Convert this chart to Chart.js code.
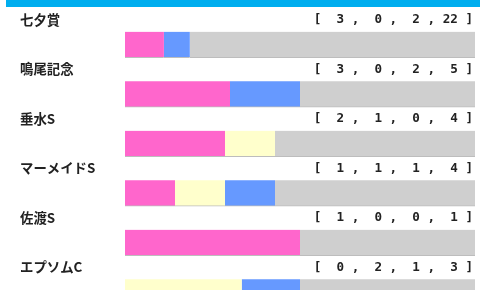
<!DOCTYPE html>
<html>
<head>
<meta charset="utf-8">
<script src="https://cdn.jsdelivr.net/npm/chart.js@4"></script>
<style>
  html, body { margin: 0; padding: 0; background: #fff; overflow: hidden; }
  #head { position: absolute; left: 6px; top: 0; width: 474px; height: 7px; background: #00aeef; }
  #results { position: absolute; left: 0; top: 0; }
</style>
</head>
<body>
<canvas id="results" width="486" height="317"></canvas>
<div id="head"></div>
<script>
const races = ["七夕賞", "鳴尾記念", "垂水S", "マーメイドS", "佐渡S", "エプソムC"];
const firsts = [3, 3, 2, 1, 1, 0];
const seconds = [0, 0, 1, 1, 0, 2];
const thirds = [2, 2, 0, 1, 0, 1];
const others = [22, 5, 4, 4, 1, 3];

const totals = races.map((_, i) => firsts[i] + seconds[i] + thirds[i] + others[i]);
const share = (arr) => arr.map((v, i) => v / totals[i]);

const pad = (n) => String(n).padStart(3, " ");

// labels above each bar: race name on the left, record on the right
const rowText = {
  id: "rowText",
  afterDraw(chart) {
    const ctx = chart.ctx;
    const bars = chart.getDatasetMeta(0).data;
    ctx.save();
    ctx.fillStyle = "#222";
    ctx.textBaseline = "middle";
    bars.forEach((bar, i) => {
      const y = bar.y - bar.height / 2 - 12;
      ctx.font = "bold 13.4px 'Noto Sans CJK JP', sans-serif";
      ctx.textAlign = "left";
      ctx.fillText(races[i], 20, y);
      const rec = "[" + [firsts[i], seconds[i], thirds[i], others[i]].map(pad).join(" ,") + " ]";
      ctx.font = "bold 12.6px 'DejaVu Sans Mono', monospace";
      ctx.textAlign = "right";
      ctx.fillText(rec, 473, y);
    });
    ctx.restore();
  }
};

const barStyle = {
  borderColor: "#bdbdbd",
  borderWidth: { top: 0, right: 0, bottom: 1, left: 0 },
  borderSkipped: false,
};

new Chart(document.getElementById("results"), {
  type: "bar",
  data: {
    labels: races,
    datasets: [
      { label: "1着", data: share(firsts), backgroundColor: "#ff66cc", ...barStyle },
      { label: "2着", data: share(seconds), backgroundColor: "#ffffcc", ...barStyle },
      { label: "3着", data: share(thirds), backgroundColor: "#6699ff", ...barStyle },
      { label: "着外", data: share(others), backgroundColor: "#cfcfcf", ...barStyle },
    ],
  },
  options: {
    indexAxis: "y",
    responsive: false,
    animation: false,
    barThickness: 26,
    layout: { padding: { top: 20, left: 125, right: 11, bottom: 0 } },
    scales: {
      x: { stacked: true, min: 0, max: 1, display: false },
      y: { stacked: true, display: false },
    },
    plugins: {
      legend: { display: false },
      tooltip: { enabled: false },
    },
  },
  plugins: [rowText],
});
</script>
</body>
</html>
